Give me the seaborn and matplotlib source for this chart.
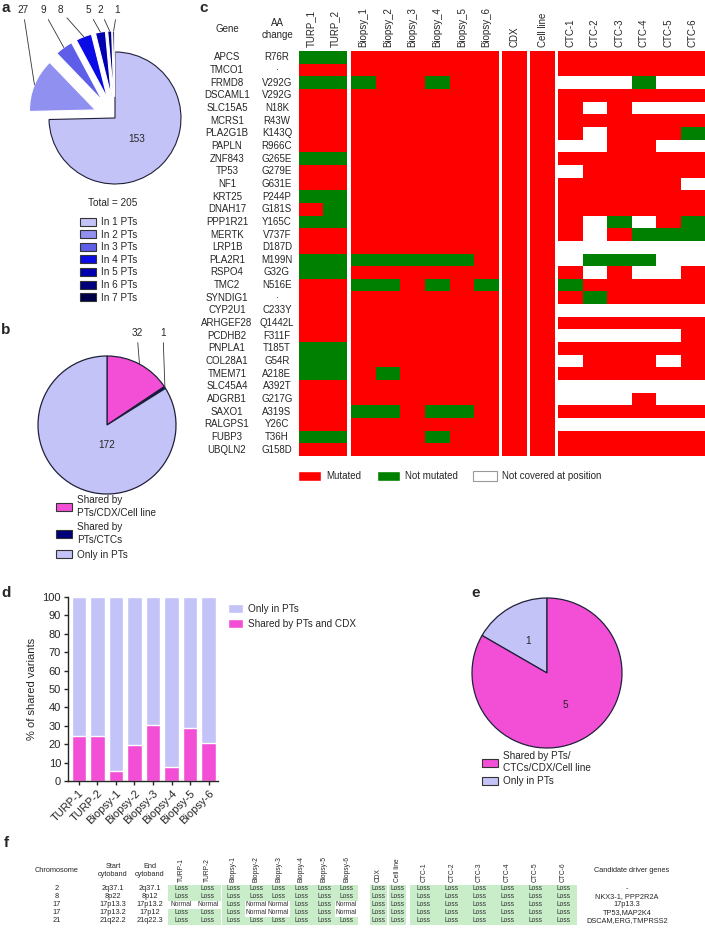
import matplotlib
matplotlib.use("Agg")
import matplotlib.pyplot as plt
import numpy as np
import pandas as pd
import seaborn as sns
from matplotlib.colors import ListedColormap
from matplotlib.patches import Patch
from matplotlib.transforms import blended_transform_factory

# ---- a: number of PT samples a variant is found in ----
pt_counts = [153, 27, 9, 8, 5, 2, 1]
pt_labels = ["In 1 PTs", "In 2 PTs", "In 3 PTs", "In 4 PTs", "In 5 PTs", "In 6 PTs", "In 7 PTs"]
pt_colors = ["#c3c3f7", "#9090f0", "#5e5ee8", "#0b0be6", "#0000b0", "#00007e", "#00004a"]

# ---- b: shared variants ----
b_counts = [32, 1, 172]
b_labels = ["Shared by\nPTs/CDX/Cell line", "Shared by\nPTs/CTCs", "Only in PTs"]

# ---- c: mutation status (M = mutated, N = not mutated, - = not covered) ----
genes = ["APCS", "TMCO1", "FRMD8", "DSCAML1", "SLC15A5", "MCRS1", "PLA2G1B", "PAPLN",
         "ZNF843", "TP53", "NF1", "KRT25", "DNAH17", "PPP1R21", "MERTK", "LRP1B",
         "PLA2R1", "RSPO4", "TMC2", "SYNDIG1", "CYP2U1", "ARHGEF28", "PCDHB2", "PNPLA1",
         "COL28A1", "TMEM71", "SLC45A4", "ADGRB1", "SAXO1", "RALGPS1", "FUBP3", "UBQLN2"]
aa_changes = ["R76R", "·", "V292G", "V292G", "N18K", "R43W", "K143Q", "R966C",
              "G265E", "G279E", "G631E", "P244P", "G181S", "Y165C", "V737F", "D187D",
              "M199N", "G32G", "N516E", "·", "C233Y", "Q1442L", "F311F", "T185T",
              "G54R", "A218E", "A392T", "G217G", "A319S", "Y26C", "T36H", "G158D"]
c_samples = ["TURP_1", "TURP_2", "Biopsy_1", "Biopsy_2", "Biopsy_3", "Biopsy_4", "Biopsy_5",
             "Biopsy_6", "CDX", "Cell line", "CTC-1", "CTC-2", "CTC-3", "CTC-4", "CTC-5", "CTC-6"]
sample_groups = [2, 6, 1, 1, 6]
status_rows = [
    "NNMMMMMMMMMMMMMM",  # APCS
    "MMMMMMMMMMMMMMMM",  # TMCO1
    "NNNMMNMMMM---N--",  # FRMD8
    "MMMMMMMMMMMMMMMM",  # DSCAML1
    "MMMMMMMMMMM-M---",  # SLC15A5
    "MMMMMMMMMMMMMMMM",  # MCRS1
    "MMMMMMMMMMM-MMMN",  # PLA2G1B
    "MMMMMMMMMM--MM--",  # PAPLN
    "NNMMMMMMMMMMMMMM",  # ZNF843
    "MMMMMMMMMM-MMMMM",  # TP53
    "MMMMMMMMMMMMMMM-",  # NF1
    "NNMMMMMMMMMMMMMM",  # KRT25
    "MNMMMMMMMMMMMMMM",  # DNAH17
    "NNMMMMMMMMM-N-MN",  # PPP1R21
    "MMMMMMMMMMM-MNNN",  # MERTK
    "MMMMMMMMMM------",  # LRP1B
    "NNNNNNNMMM-NNN--",  # PLA2R1
    "NNMMMMMMMMM-M--M",  # RSPO4
    "MMNNMNMNMMNMMMMM",  # TMC2
    "MMMMMMMMMMMNMMMM",  # SYNDIG1
    "MMMMMMMMMM------",  # CYP2U1
    "MMMMMMMMMMMMMMMM",  # ARHGEF28
    "MMMMMMMMMM-----M",  # PCDHB2
    "NNMMMMMMMMMMMMMM",  # PNPLA1
    "NNMMMMMMMM-MMM-M",  # COL28A1
    "NNMNMMMMMMMMMMMM",  # TMEM71
    "MMMMMMMMMM------",  # SLC45A4
    "MMMMMMMMMM---M--",  # ADGRB1
    "MMNNMNNMMMMMMMMM",  # SAXO1
    "MMMMMMMMMM------",  # RALGPS1
    "NNMMMNMMMMMMMMMM",  # FUBP3
    "MMMMMMMMMMMMMMMM",  # UBQLN2
]

# ---- d: % of shared variants per PT sample ----
d_samples = ["TURP-1", "TURP-2", "Biopsy-1", "Biopsy-2", "Biopsy-3", "Biopsy-4", "Biopsy-5", "Biopsy-6"]
d_shared = [24.5, 24.5, 5.6, 19.6, 30.4, 7.6, 28.6, 20.6]
d_only = [75.5, 75.5, 94.4, 80.4, 69.6, 92.4, 71.4, 79.4]

# ---- e ----
e_counts = [1, 5]
e_labels = ["Only in PTs", "Shared by PTs/\nCTCs/CDX/Cell line"]

# ---- f: copy number table (L = loss, N = normal) ----
f_chrom = ["2", "8", "17", "17", "21"]
f_start = ["2q37.1", "8p22", "17p13.3", "17p13.2", "21q22.2"]
f_end = ["2q37.1", "8p12", "17p13.2", "17p12", "21q22.3"]
f_samples = ["TURP-1", "TURP-2", "Biopsy-1", "Biopsy-2", "Biopsy-3", "Biopsy-4", "Biopsy-5",
             "Biopsy-6", "CDX", "Cell line", "CTC-1", "CTC-2", "CTC-3", "CTC-4", "CTC-5", "CTC-6"]
f_rows = [
    "LLLLLLLLLLLLLLLL",
    "LLLLLLLLLLLLLLLL",
    "NNLNNLLNLLLLLLLL",
    "LLLNNLLNLLLLLLLL",
    "LLLLLLLLLLLLLLLL",
]
f_drivers = ["-", "NKX3-1, PPP2R2A", "17p13.3", "TP53,MAP2K4", "DSCAM,ERG,TMPRSS2"]

LAV = "#c3c3f7"
PINK = "#f24fd6"
NAVY = "#00007a"
EDGE = "#20203a"

sns.set_theme(style="ticks")
plt.rcParams["font.family"] = ["Liberation Sans", "DejaVu Sans"]
plt.rcParams["axes.linewidth"] = 1.0

W, H = 705, 934
fig = plt.figure(figsize=(W / 100, H / 100), dpi=100)


def px_axes(x0, y0, x1, y1):
    return fig.add_axes([x0 / W, 1 - y1 / H, (x1 - x0) / W, (y1 - y0) / H])


def px_text(x, y, s, **kw):
    kw.setdefault("ha", "center")
    kw.setdefault("va", "center")
    return fig.text(x / W, 1 - y / H, s, **kw)


def pie_axes(cx, cy, r, lim=1.5):
    return px_axes(cx - lim * r, cy - lim * r, cx + lim * r, cy + lim * r)


def finish_pie(ax, lim=1.5):
    ax.set_xlim(-lim, lim)
    ax.set_ylim(-lim, lim)
    ax.set_aspect("equal")
    ax.axis("off")


def arc_point(w, frac=1.0):
    ang = np.deg2rad((w.theta1 + w.theta2) / 2)
    return (w.center[0] + frac * w.r * np.cos(ang), w.center[1] + frac * w.r * np.sin(ang))


def leader(ax, w, text, lx, ly):
    ax.annotate(text, xy=arc_point(w), xycoords="data",
                xytext=(lx / W, 1 - ly / H), textcoords="figure fraction",
                ha="center", va="center", fontsize=7.2,
                arrowprops=dict(arrowstyle="-", color="#333333", lw=0.6, shrinkA=1, shrinkB=0),
                annotation_clip=False)


def box_legend(handles, labels, x, y, linespacing=1.2, **kw):
    opts = dict(loc="upper left", bbox_to_anchor=(x / W, 1 - y / H), frameon=False,
                fontsize=7.2, handlelength=1.6, handleheight=0.85, handletextpad=0.5,
                labelspacing=0.12, borderpad=0, borderaxespad=0)
    opts.update(kw)
    leg = fig.legend(handles, labels, **opts)
    for t in leg.get_texts():
        t.set_linespacing(linespacing)
    return leg


def boxes(colors):
    return [Patch(facecolor=c, edgecolor="#333333", linewidth=0.8) for c in colors]


# ---------------- a ----------------
ax_a = pie_axes(115, 118, 66)
wedges_a, _ = ax_a.pie(pt_counts, colors=pt_colors, startangle=90, counterclock=False,
                       explode=[0] + [0.32] * 6,
                       wedgeprops=dict(edgecolor="white", linewidth=0.8))
wedges_a[0].set_edgecolor(EDGE)
finish_pie(ax_a)
for w, n, lx in zip(wedges_a[1:], pt_counts[1:], [23, 43, 60, 88, 100, 117]):
    leader(ax_a, w, str(n), lx, 10)
ax_a.text(*arc_point(wedges_a[0], 0.45), str(pt_counts[0]), ha="center", va="center", fontsize=7.2)
px_text(113, 203, f"Total = {sum(pt_counts)}", fontsize=7.2)
box_legend(boxes(pt_colors), pt_labels, 80, 217, labelspacing=0.26)
px_text(6, 8, "a", fontsize=11, fontweight="bold")

# ---------------- b ----------------
ax_b = pie_axes(107, 425, 69)
wedges_b, _ = ax_b.pie(b_counts, colors=[PINK, NAVY, LAV], startangle=90, counterclock=False,
                       wedgeprops=dict(edgecolor=EDGE, linewidth=0.9))
finish_pie(ax_b)
leader(ax_b, wedges_b[0], str(b_counts[0]), 137, 333)
leader(ax_b, wedges_b[1], str(b_counts[1]), 163, 333)
ax_b.text(0, -0.29, str(b_counts[2]), ha="center", va="center", fontsize=7.2)
box_legend(boxes([PINK, NAVY, LAV]), b_labels, 56, 495, linespacing=1.35, labelspacing=0.45)
px_text(6, 330, "b", fontsize=11, fontweight="bold")

# ---------------- c ----------------
code = {"-": 0, "N": 1, "M": 2}
c_df = pd.DataFrame([[code[ch] for ch in row] for row in status_rows], index=genes, columns=c_samples)
cmap_c = ListedColormap(["white", "#008000", "#ff0000"])
c_group_px = [(299, 347), (351, 499), (502, 527), (530, 555), (558, 705)]
c_axes = []
start = 0
for (x0, x1), n in zip(c_group_px, sample_groups):
    ax = px_axes(x0, 51, x1, 456)
    sns.heatmap(c_df.iloc[:, start:start + n], ax=ax, cmap=cmap_c, vmin=-0.5, vmax=2.5,
                cbar=False, yticklabels=False, xticklabels=True)
    ax.xaxis.tick_top()
    ax.tick_params(axis="x", length=0, pad=3, labelrotation=90, labelsize=7)
    ax.set_xlabel("")
    ax.set_ylabel("")
    c_axes.append(ax)
    start += n

tr_c = blended_transform_factory(fig.transFigure, c_axes[0].transData)
for i, (g, aa) in enumerate(zip(genes, aa_changes)):
    c_axes[0].text(227 / W, i + 0.5, g, transform=tr_c, ha="center", va="center", fontsize=7)
    c_axes[0].text(277 / W, i + 0.5, aa, transform=tr_c, ha="center", va="center", fontsize=7)
px_text(227, 29, "Gene", fontsize=7)
px_text(277, 29, "AA\nchange", fontsize=7, linespacing=1.3)
fig.legend([Patch(facecolor="#ff0000"), Patch(facecolor="#008000"),
            Patch(facecolor="white", edgecolor="#999999", linewidth=0.8)],
           ["Mutated", "Not mutated", "Not covered at position"],
           loc="center left", bbox_to_anchor=(298 / W, 1 - 476 / H), ncol=3, frameon=False,
           fontsize=7, handlelength=2.4, handleheight=1.2, handletextpad=0.5,
           columnspacing=1.6, borderpad=0, borderaxespad=0)
px_text(204, 8, "c", fontsize=11, fontweight="bold")

# ---------------- d ----------------
ax_d = px_axes(68, 597, 218, 781)
d_total = np.add(d_shared, d_only)
sns.barplot(x=d_samples, y=d_total, color=LAV, saturation=1, width=0.78, ax=ax_d)
sns.barplot(x=d_samples, y=d_shared, color=PINK, saturation=1, width=0.78, ax=ax_d)
ax_d.set_xlim(-0.58, 7.5)
ax_d.set_ylim(0, 100)
ax_d.set_yticks(np.arange(0, 101, 10))
ax_d.set_ylabel("% of shared variants", fontsize=8, labelpad=4)
ax_d.tick_params(axis="both", labelsize=8, length=3, width=1, pad=2)
ax_d.tick_params(axis="x", labelrotation=45)
for lab in ax_d.get_xticklabels():
    lab.set_ha("right")
    lab.set_rotation_mode("anchor")
sns.despine(ax=ax_d)
box_legend([Patch(facecolor=LAV), Patch(facecolor=PINK)], ["Only in PTs", "Shared by PTs and CDX"],
           228, 604, labelspacing=0.5, handlelength=1.5, handleheight=0.9)
px_text(6, 593, "d", fontsize=11, fontweight="bold")

# ---------------- e ----------------
ax_e = pie_axes(547, 673, 75)
ax_e.pie(e_counts, colors=[LAV, PINK], startangle=90, counterclock=True,
         autopct=lambda p: f"{p * sum(e_counts) / 100:.0f}", pctdistance=0.5,
         wedgeprops=dict(edgecolor=EDGE, linewidth=0.9),
         textprops=dict(fontsize=7.2, color="#222222"))
finish_pie(ax_e)
box_legend(boxes([PINK, LAV]), e_labels[::-1], 482, 751, linespacing=1.3, labelspacing=0.3)
px_text(476, 593, "e", fontsize=11, fontweight="bold")

# ---------------- f ----------------
f_status = pd.DataFrame([[1 if ch == "L" else 0 for ch in row] for row in f_rows], columns=f_samples)
f_annot = np.where(f_status.values == 1, "Loss", "Normal")
cmap_f = ListedColormap(["white", "#c9ecc9"])
f_group_px = [(168, 221), (222, 358), (370, 387), (389, 406), (410, 577)]
f_axes = []
start = 0
for (x0, x1), n in zip(f_group_px, sample_groups):
    ax = px_axes(x0, 885, x1, 925)
    sns.heatmap(f_status.iloc[:, start:start + n], ax=ax, cmap=cmap_f, vmin=-0.5, vmax=1.5,
                cbar=False, yticklabels=False, xticklabels=True,
                annot=f_annot[:, start:start + n], fmt="",
                annot_kws=dict(fontsize=4.8, color="#333333"))
    ax.xaxis.tick_top()
    ax.tick_params(axis="x", length=0, pad=2, labelrotation=90, labelsize=4.8)
    ax.set_xlabel("")
    ax.set_ylabel("")
    f_axes.append(ax)
    start += n

tr_f = blended_transform_factory(fig.transFigure, f_axes[0].transData)
for i in range(len(f_rows)):
    for x, s in zip([57, 113, 150], [f_chrom[i], f_start[i], f_end[i]]):
        f_axes[0].text(x / W, i + 0.5, s, transform=tr_f, ha="center", va="center", fontsize=5.3)
    f_axes[0].text(627 / W, i + 0.5, f_drivers[i], transform=tr_f, ha="center", va="center", fontsize=5.3)
px_text(57, 871, "Chromosome", fontsize=5.3)
px_text(113, 871, "Start\ncytoband", fontsize=5.3)
px_text(150, 871, "End\ncytoband", fontsize=5.3)
px_text(632, 871, "Candidate driver genes", fontsize=5.3)
px_text(6, 843, "f", fontsize=11, fontweight="bold")

fig.savefig("out.png", dpi=100)
